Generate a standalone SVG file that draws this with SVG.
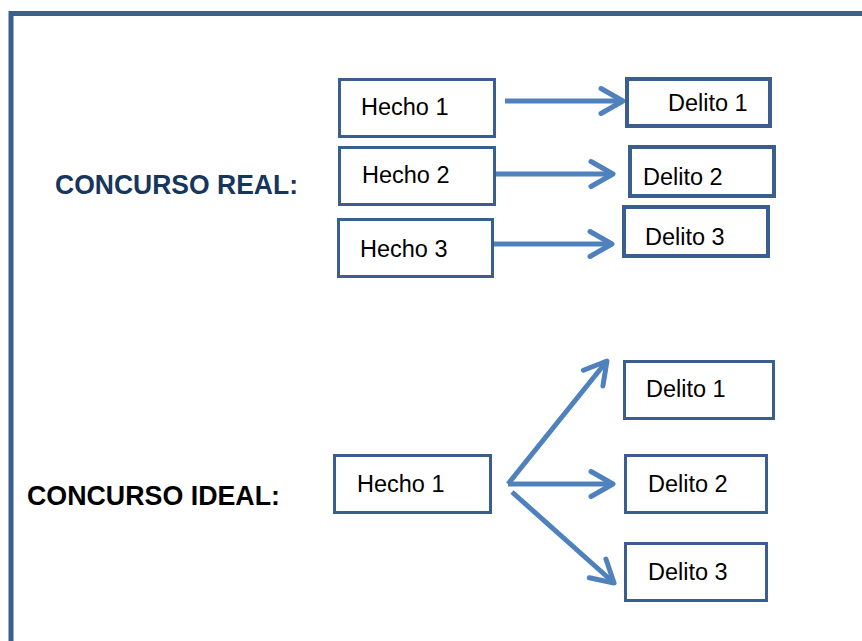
<svg xmlns="http://www.w3.org/2000/svg" width="862" height="641" viewBox="0 0 862 641">
  <style>
    .frame { fill: none; stroke: #3b5f8f; stroke-width: 5; }
    .box { fill: #ffffff; stroke: #3a5f8e; stroke-width: 3; }
    .box.thick { stroke-width: 4; }
    .label { font-family: "Liberation Sans", Arial, sans-serif; font-size: 23.5px; fill: #000000; }
    .heading { font-family: "Liberation Sans", Arial, sans-serif; font-size: 27px; font-weight: bold; }
    .conn { fill: none; stroke: #4f81bd; stroke-width: 5; marker-end: url(#chevron); }
  </style>
  <defs>
    <marker id="chevron" markerUnits="userSpaceOnUse" markerWidth="40" markerHeight="40" refX="27" refY="20" orient="auto" overflow="visible">
      <path d="M 8 7.5 L 30 20 L 8 32.5" fill="none" stroke="#4f81bd" stroke-width="5" stroke-linecap="round" stroke-linejoin="round"/>
    </marker>
  </defs>

  <rect width="862" height="641" fill="#ffffff"/>

  <!-- page frame, open to the right and bottom -->
  <path class="frame" d="M 11 645 V 13.5 H 870"/>

  <!-- headings -->
  <text class="heading" x="55" y="194" fill="#17365d" textLength="243" lengthAdjust="spacingAndGlyphs">CONCURSO REAL:</text>
  <text class="heading" x="27" y="505" fill="#000000" textLength="253" lengthAdjust="spacingAndGlyphs">CONCURSO IDEAL:</text>

  <!-- connectors -->
  <g id="connectors">
    <line class="conn" x1="505" y1="101" x2="620" y2="101"/>
    <line class="conn" x1="495" y1="174" x2="610" y2="174"/>
    <line class="conn" x1="494" y1="244" x2="609" y2="244"/>
    <line class="conn" x1="508" y1="484" x2="605.1" y2="363.3"/>
    <line class="conn" x1="508" y1="484" x2="610" y2="484"/>
    <line class="conn" x1="512" y1="492" x2="611.8" y2="581"/>
  </g>

  <!-- concurso real -->
  <g id="real-hecho-1">
    <rect class="box" x="339.5" y="79.5" width="155" height="57"/>
    <text class="label" x="361" y="115">Hecho 1</text>
  </g>
  <g id="real-hecho-2">
    <rect class="box" x="339.5" y="147.5" width="155" height="57"/>
    <text class="label" x="362" y="183">Hecho 2</text>
  </g>
  <g id="real-hecho-3">
    <rect class="box" x="338.5" y="219.5" width="154" height="57"/>
    <text class="label" x="360" y="257">Hecho 3</text>
  </g>
  <g id="real-delito-1">
    <rect class="box thick" x="627" y="79" width="143" height="47"/>
    <text class="label" x="668" y="111">Delito 1</text>
  </g>
  <g id="real-delito-2">
    <rect class="box thick" x="630" y="147" width="144" height="49"/>
    <text class="label" x="643" y="185">Delito 2</text>
  </g>
  <g id="real-delito-3">
    <rect class="box thick" x="624" y="207" width="144" height="49"/>
    <text class="label" x="645" y="245">Delito 3</text>
  </g>

  <!-- concurso ideal -->
  <g id="ideal-hecho-1">
    <rect class="box" x="334.5" y="455.5" width="156" height="57"/>
    <text class="label" x="357" y="492">Hecho 1</text>
  </g>
  <g id="ideal-delito-1">
    <rect class="box" x="624.5" y="361.5" width="149" height="57"/>
    <text class="label" x="646" y="397">Delito 1</text>
  </g>
  <g id="ideal-delito-2">
    <rect class="box" x="625.5" y="455.5" width="141" height="57"/>
    <text class="label" x="648" y="492">Delito 2</text>
  </g>
  <g id="ideal-delito-3">
    <rect class="box" x="625.5" y="543.5" width="141" height="57"/>
    <text class="label" x="648" y="580">Delito 3</text>
  </g>
</svg>
